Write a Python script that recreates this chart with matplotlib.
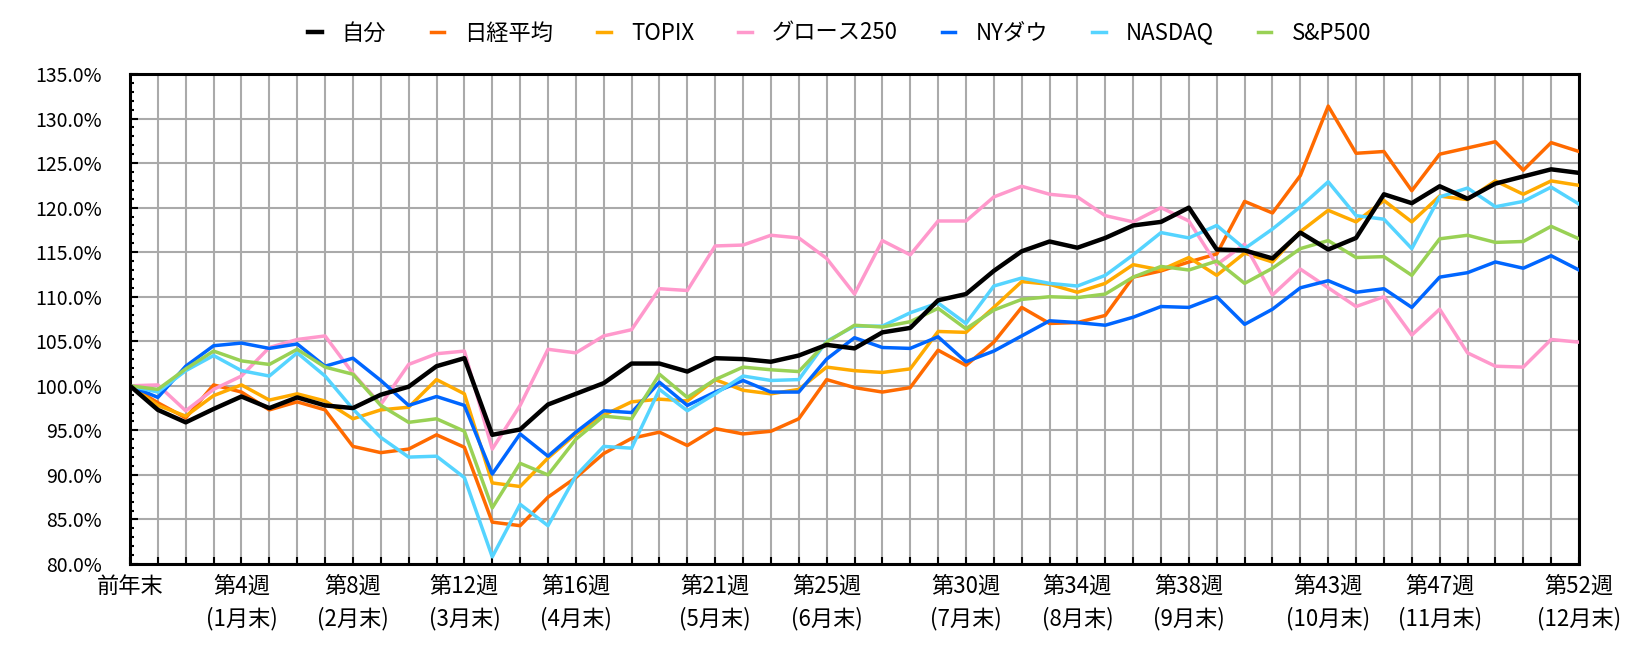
import numpy as np
import matplotlib
matplotlib.use('Agg')
import matplotlib.pyplot as plt
from matplotlib.ticker import MultipleLocator, FuncFormatter

plt.rcParams['font.family'] = ['Noto Sans CJK JP', 'DejaVu Sans']

weeks = np.arange(53)  # 0 = 前年末, 52 = 第52週

jibun = [100, 97.3, 95.9, 97.4, 98.8, 97.5, 98.7, 97.8, 97.5, 99.0,
         99.9, 102.2, 103.1, 94.5, 95.1, 97.9, 99.1, 100.3, 102.5, 102.5,
         101.6, 103.1, 103.0, 102.7, 103.4, 104.6, 104.2, 106.0, 106.5, 109.6,
         110.3, 112.9, 115.1, 116.2, 115.5, 116.6, 118.0, 118.4, 120.0, 115.3,
         115.2, 114.3, 117.2, 115.3, 116.6, 121.5, 120.5, 122.4, 121.0, 122.7,
         123.5, 124.3, 123.9]
nikkei = [100, 98.1, 96.4, 100.1, 99.3, 97.3, 98.2, 97.3, 93.2, 92.5,
          92.9, 94.5, 93.1, 84.7, 84.3, 87.5, 89.7, 92.4, 94.1, 94.8,
          93.3, 95.2, 94.6, 94.9, 96.3, 100.7, 99.8, 99.3, 99.8, 104.0,
          102.3, 104.9, 108.8, 107.0, 107.1, 107.9, 112.2, 112.9, 113.9, 114.8,
          120.7, 119.4, 123.6, 131.4, 126.1, 126.3, 121.9, 126.0, 126.7, 127.4,
          124.2, 127.3, 126.3]
topix = [100, 97.8, 96.6, 98.9, 100.1, 98.4, 99.1, 98.3, 96.3, 97.3,
         97.6, 100.7, 99.1, 89.1, 88.7, 91.9, 94.6, 96.7, 98.2, 98.5,
         98.3, 100.7, 99.5, 99.1, 99.6, 102.1, 101.7, 101.5, 101.9, 106.1,
         106.0, 108.8, 111.7, 111.4, 110.5, 111.5, 113.6, 113.0, 114.4, 112.4,
         114.9, 113.9, 117.3, 119.7, 118.4, 120.8, 118.4, 121.3, 120.9, 123.0,
         121.5, 123.0, 122.5]
growth250 = [100, 100.1, 97.2, 99.6, 101.1, 104.3, 105.2, 105.6, 101.4, 97.9,
             102.4, 103.6, 103.9, 92.9, 97.8, 104.1, 103.7, 105.6, 106.3, 110.9,
             110.7, 115.7, 115.8, 116.9, 116.6, 114.3, 110.3, 116.3, 114.7, 118.5,
             118.5, 121.2, 122.4, 121.5, 121.2, 119.1, 118.4, 120.0, 118.5, 113.6,
             115.9, 110.2, 113.1, 111.0, 108.9, 110.0, 105.7, 108.6, 103.7, 102.2,
             102.1, 105.2, 104.9]
nydow = [100, 98.7, 102.2, 104.5, 104.8, 104.2, 104.7, 102.2, 103.1, 100.6,
         97.8, 98.8, 97.8, 90.1, 94.6, 92.1, 94.8, 97.2, 97.0, 100.4,
         97.8, 99.3, 100.6, 99.3, 99.3, 103.0, 105.4, 104.3, 104.2, 105.5,
         102.7, 103.9, 105.6, 107.3, 107.1, 106.8, 107.7, 108.9, 108.8, 110.0,
         106.9, 108.6, 111.0, 111.8, 110.5, 110.9, 108.8, 112.2, 112.7, 113.9,
         113.2, 114.6, 113.0]
nasdaq = [100, 99.3, 101.7, 103.4, 101.7, 101.1, 103.7, 101.1, 97.4, 94.2,
          92.0, 92.1, 89.7, 80.8, 86.7, 84.3, 89.9, 93.2, 93.0, 99.6,
          97.2, 99.1, 101.1, 100.6, 100.7, 105.0, 106.7, 106.7, 108.2, 109.3,
          107.0, 111.2, 112.1, 111.5, 111.2, 112.4, 114.7, 117.2, 116.6, 118.0,
          115.4, 117.6, 120.1, 122.9, 119.1, 118.7, 115.4, 121.2, 122.2, 120.1,
          120.7, 122.3, 120.4]
sp500 = [100, 99.6, 101.9, 103.9, 102.8, 102.4, 104.1, 102.1, 101.3, 97.8,
         95.9, 96.3, 94.9, 86.3, 91.3, 90.0, 94.0, 96.6, 96.3, 101.3,
         98.7, 100.7, 102.1, 101.8, 101.6, 104.9, 106.8, 106.6, 107.2, 108.7,
         106.4, 108.5, 109.7, 110.0, 109.9, 110.3, 112.2, 113.4, 113.0, 114.0,
         111.5, 113.2, 115.4, 116.3, 114.4, 114.5, 112.4, 116.5, 116.9, 116.1,
         116.2, 117.9, 116.5]

names = ['自分', '日経平均', 'TOPIX', 'グロース250', 'NYダウ', 'NASDAQ', 'S&P500']
colors = ['#000000', '#FF6A00', '#FFAA00', '#FF99CC', '#0066FF', '#55D4FF', '#99D155']
series = [jibun, nikkei, topix, growth250, nydow, nasdaq, sp500]

label_weeks = [0, 4, 8, 12, 16, 21, 25, 30, 34, 38, 43, 47, 52]
label_texts = ['前年末', '第4週\n(1月末)', '第8週\n(2月末)', '第12週\n(3月末)',
               '第16週\n(4月末)', '第21週\n(5月末)', '第25週\n(6月末)',
               '第30週\n(7月末)', '第34週\n(8月末)', '第38週\n(9月末)',
               '第43週\n(10月末)', '第47週\n(11月末)', '第52週\n(12月末)']

fig = plt.figure(figsize=(16.4, 6.64), dpi=100)
ax = fig.add_axes([130/1640, 1 - 564/664, (1579-130)/1640, (564-74)/664])

for i, (name, vals, c) in enumerate(zip(names, series, colors)):
    lw = 3.2 if i == 0 else 2.5
    z = 10 if i == 0 else 3 + i * 0.1
    ax.plot(weeks, vals, color=c, lw=lw, label=name, zorder=z)

ax.set_xlim(0, 52)
ax.set_ylim(80, 135)

# x: tick at every week, label only at some
ax.set_xticks(weeks)
xlabels = ['' for w in weeks]
for w, t in zip(label_weeks, label_texts):
    xlabels[w] = t
ax.set_xticklabels(xlabels, fontsize=16, linespacing=1.45, va='top')

ax.yaxis.set_major_locator(MultipleLocator(5))
ax.yaxis.set_minor_locator(MultipleLocator(1))
ax.yaxis.set_major_formatter(FuncFormatter(lambda v, p: '{:.1f}%'.format(v)))

ax.grid(True, which='major', color='#AAAAAA', lw=1.5, zorder=0)
ax.set_axisbelow(True)

ax.tick_params(axis='x', direction='in', length=5, width=1.5, pad=8)
ax.tick_params(axis='y', which='major', direction='in', length=6, width=1.5, pad=20, labelsize=14)
ax.tick_params(axis='y', which='minor', direction='in', length=3, width=1.5)

for s in ax.spines.values():
    s.set_linewidth(2.2)
    s.set_color('black')

fig.legend(loc='center', bbox_to_anchor=(0.512, 1 - 33/664), ncol=7, frameon=False,
           fontsize=16, handlelength=0.6, handletextpad=0.9, columnspacing=2.0)

fig.savefig('out.png', dpi=100)
